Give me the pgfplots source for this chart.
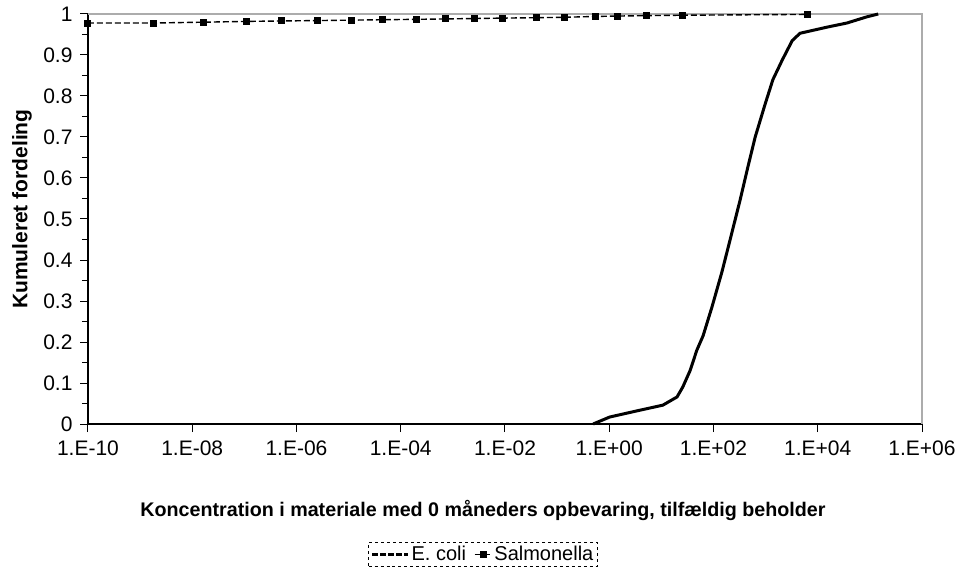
\documentclass[border=0pt]{standalone}
\usepackage{pgfplots}
\pgfplotsset{compat=1.18}
\usepackage{fontspec}
\setmainfont{Liberation Sans}
\begin{document}
\begin{tikzpicture}
\useasboundingbox (-88bp,-149bp) rectangle (878bp,424bp);
\begin{axis}[
  at={(0,0)}, anchor=south west,
  scale only axis, width=834bp, height=410bp,
  xmode=log, log basis x=10,
  xmin=1e-10, xmax=1e6, ymin=0, ymax=1,
  axis x line*=bottom, axis y line*=left,
  axis line style={black, line width=1.2bp},
  xtick={1e-10,1e-8,1e-6,1e-4,1e-2,1,1e2,1e4,1e6},
  xticklabels={1.E-10,1.E-08,1.E-06,1.E-04,1.E-02,1.E+00,1.E+02,1.E+04,1.E+06},
  xminorticks=false,
  ytick={0,0.1,0.2,0.3,0.4,0.5,0.6,0.7,0.8,0.9,1},
  yticklabels={0,0.1,0.2,0.3,0.4,0.5,0.6,0.7,0.8,0.9,1},
  minor y tick num=1,
  tick align=outside,
  major tick length=8bp, minor tick length=6bp,
  tick style={black, line width=1bp},
  tick label style={font=\fontsize{21bp}{25bp}\selectfont},
  xticklabel style={yshift=-5bp},
  yticklabel style={xshift=-4bp},
  /pgf/number format/assume math mode=true,
  xlabel={Koncentration i materiale med 0 måneders opbevaring, tilfældig beholder},
  ylabel={Kumuleret fordeling},
  x label style={at={(axis description cs:0.4736,-0.2098)}, anchor=center, font=\bfseries\fontsize{19.7bp}{24bp}\selectfont},
  y label style={at={(axis description cs:-0.0791,0.524)}, anchor=center, rotate=0, font=\bfseries\fontsize{21bp}{25bp}\selectfont},
  legend columns=2,
  legend style={at={(axis description cs:0.4736,-0.288)}, anchor=north, draw=black, dashed, line width=0.8bp,
    font=\fontsize{20bp}{24bp}\selectfont, /tikz/every even column/.append style={column sep=6bp}, inner sep=2bp},
  clip=false,
]
\draw[gray!65, line width=2.2bp] (rel axis cs:0,1) -- (rel axis cs:1,1) -- (rel axis cs:1,0);
\addplot[black, line width=3bp, solid,
  legend image code/.code={\draw[black, line width=3bp, dash pattern=on 6bp off 2bp] (0bp,0bp) -- (36bp,0bp);}]
coordinates {
(0.49,0) (1.02,0.017) (3.39,0.032) (10.7,0.046) (20.0,0.066) (25.7,0.09) (35.5,0.13) (47.9,0.18)
(63.1,0.215) (93.3,0.285) (144.5,0.37) (208.9,0.45) (323.6,0.546) (457.1,0.627) (631.0,0.70)
(977.2,0.78) (1380,0.84) (2089,0.888) (3236,0.935) (4571,0.953) (15136,0.968) (36308,0.978)
(87096,0.993) (144544,1.0)
};
\addlegendentry{E. coli}
\addplot[black, line width=1.4bp, dash pattern=on 6bp off 3bp, mark=square*, mark size=2.8bp,
  mark options={solid, fill=black}]
coordinates {
(1e-10,0.978) (1.78e-9,0.978) (1.62e-8,0.980) (1.12e-7,0.982) (5.25e-7,0.983) (2.57e-6,0.984)
(1.12e-5,0.985) (4.37e-5,0.986) (2.04e-4,0.987) (7.08e-4,0.988) (2.63e-3,0.989) (9.12e-3,0.990)
(4.07e-2,0.991) (0.141,0.992) (0.537,0.994) (1.41,0.995) (5.25,0.996) (25.1,0.997) (6457,0.999)
};
\addlegendentry{Salmonella}
\end{axis}
\end{tikzpicture}
\end{document}
